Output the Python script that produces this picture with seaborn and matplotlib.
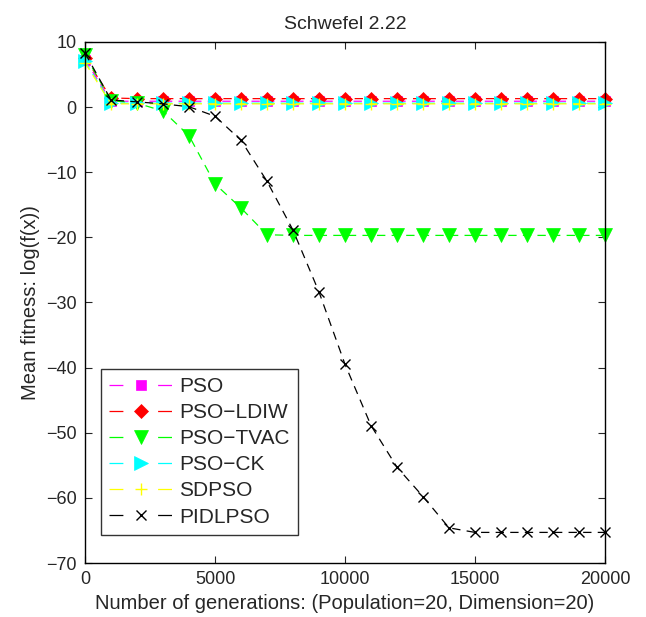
import numpy as np
import pandas as pd
import matplotlib
matplotlib.use("Agg")
import matplotlib.pyplot as plt
from matplotlib.lines import Line2D
import seaborn as sns

generations = list(range(0, 20001, 1000))
pso      = [7.3, 0.9, 0.9, 0.9, 0.9, 0.9, 0.9, 0.9, 0.9, 0.9, 0.9, 0.9, 0.9, 0.9, 0.9, 0.9, 0.9, 0.9, 0.9, 0.9, 0.9]
pso_ldiw = [7.6, 1.4, 1.3, 1.3, 1.3, 1.3, 1.3, 1.3, 1.3, 1.3, 1.3, 1.3, 1.3, 1.3, 1.3, 1.3, 1.3, 1.3, 1.3, 1.3, 1.3]
pso_tvac = [8.0, 1.0, 0.6, -0.6, -4.4, -11.8, -15.5, -19.6, -19.7, -19.7, -19.7, -19.7, -19.7, -19.7, -19.7, -19.7, -19.7, -19.7, -19.7, -19.7, -19.7]
pso_ck   = [7.0, 0.6, 0.6, 0.6, 0.6, 0.6, 0.6, 0.6, 0.6, 0.6, 0.6, 0.6, 0.6, 0.6, 0.6, 0.6, 0.6, 0.6, 0.6, 0.6, 0.6]
sdpso    = [6.8, 0.5, 0.5, 0.5, 0.5, 0.5, 0.5, 0.5, 0.5, 0.5, 0.5, 0.5, 0.5, 0.5, 0.5, 0.5, 0.5, 0.5, 0.5, 0.5, 0.5]
pidlpso  = [8.3, 1.1, 0.8, 0.5, 0.05, -1.4, -5.1, -11.4, -18.9, -28.4, -39.5, -48.9, -55.3, -59.8, -64.6, -65.3, -65.3, -65.3, -65.3, -65.3, -65.3]

names = ["PSO", "PSO\u2212LDIW", "PSO\u2212TVAC", "PSO\u2212CK", "SDPSO", "PIDLPSO"]
series = [pso, pso_ldiw, pso_tvac, pso_ck, sdpso, pidlpso]
colors = ["#FF00FF", "#FF0000", "#00FF00", "#00FFFF", "#FFFF00", "#000000"]
markers = ["s", "D", "v", ">", "+", "x"]
msizes = [7, 7.5, 10, 10, 9, 7]

sns.set_style("ticks")
plt.rcParams["font.family"] = ["Liberation Sans", "DejaVu Sans"]
plt.rcParams["lines.scale_dashes"] = False

fig = plt.figure(figsize=(6.46, 6.17), dpi=100)
ax = fig.add_axes([0.1316, 0.0875, 0.805, 0.8445])

handles = []
for name, vals, c, m, ms in zip(names, series, colors, markers, msizes):
    df = pd.DataFrame({"gen": generations, "val": vals})
    mew = 1.0 if m in ("+", "x") else 0.5
    sns.lineplot(data=df, x="gen", y="val", ax=ax, color=c, marker=m,
                 markersize=ms, linewidth=0.9, markeredgecolor=c,
                 markerfacecolor=c, markeredgewidth=mew, clip_on=False,
                 legend=False)
    ax.lines[-1].set_dashes([6, 4.5])
    h = Line2D([], [], color=c, marker=m, markersize=ms, linewidth=0.9,
               markeredgecolor=c, markerfacecolor=c, markeredgewidth=mew,
               dashes=[10, 25], label=name)
    handles.append(h)

ax.set_xlim(0, 20000)
ax.set_ylim(-70, 10)
ax.set_xticks([0, 5000, 10000, 15000, 20000])
ax.set_yticks(list(range(-70, 11, 10)))
ax.tick_params(direction="in", length=5, labelsize=13, top=True, right=True,
               width=0.8, pad=6)
for s in ax.spines.values():
    s.set_linewidth(1.0)
    s.set_color("black")

ax.set_title("Schwefel 2.22", fontsize=14, pad=9)
ax.set_xlabel("Number of generations: (Population=20, Dimension=20)", fontsize=14.5, labelpad=4)
ax.set_ylabel("Mean fitness: log(f(x))", fontsize=14.5, labelpad=4)

leg = ax.legend(handles=handles, loc="lower left", bbox_to_anchor=(0.031, 0.054),
                borderaxespad=0, fontsize=15, handlelength=3.0, numpoints=1,
                frameon=True, fancybox=False, edgecolor="black", borderpad=0.4,
                labelspacing=0.34, handletextpad=0.33)
leg.get_frame().set_linewidth(1.0)

fig.savefig("out.png", dpi=100)
